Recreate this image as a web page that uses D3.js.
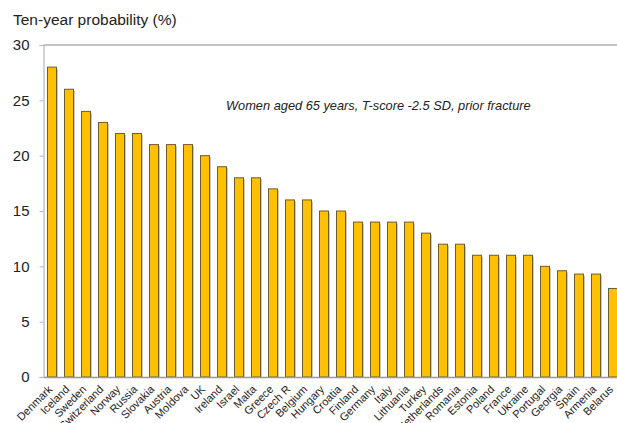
<!DOCTYPE html>
<html><head><meta charset="utf-8">
<script src="https://cdn.jsdelivr.net/npm/d3@7"></script>
<style>body{margin:0;background:#fff;overflow:hidden}svg{display:block;font-family:"Liberation Sans",Arial,sans-serif}</style>
</head><body><svg id="c" width="617" height="423"></svg>
<script>
const countries = ["Denmark","Iceland","Sweden","Switzerland","Norway","Russia","Slovakia","Austria","Moldova","UK","Ireland","Israel","Malta","Greece","Czech R","Belgium","Hungary","Croatia","Finland","Germany","Italy","Lithuania","Turkey","Netherlands","Romania","Estonia","Poland","France","Ukraine","Portugal","Georgia","Spain","Armenia","Belarus"];
const probability = [28,26,24,23,22,22,21,21,21,20,19,18,18,17,16,16,15,15,14,14,14,14,13,12,12,11,11,11,11,10,9.6,9.3,9.3,8];
const yTicks = [0,5,10,15,20,25,30];
const titleText = "Ten-year probability (%)";
const noteText = "Women aged 65 years, T-score -2.5 SD, prior fracture";

(function(){
const svg = d3.select("#c");
const mLeft = 43.5, mTop = 45, mBottom = 377;
const x = d3.scaleBand().domain(countries).range([mLeft, mLeft + 34*17]).paddingInner(0.47).paddingOuter(0.235);
const y = d3.scaleLinear().domain([0,30]).range([mBottom, mTop]);

svg.append("line").attr("x1", mLeft).attr("x2", 617).attr("y1", mTop).attr("y2", mTop)
  .attr("stroke", "#888").attr("stroke-width", 1.2);

svg.append("g").selectAll("rect").data(probability).join("rect")
  .attr("x", (d,i) => x(countries[i]) + 1.5)
  .attr("y", d => y(d) + 1.5)
  .attr("width", x.bandwidth())
  .attr("height", d => mBottom - y(d) - 1.5)
  .attr("fill", "#c8c8c8");

svg.append("g").selectAll("rect").data(probability).join("rect")
  .attr("x", (d,i) => x(countries[i]))
  .attr("y", d => y(d))
  .attr("width", x.bandwidth())
  .attr("height", d => mBottom - y(d))
  .attr("fill", "#FFC000")
  .attr("stroke", "#6e5c2c").attr("stroke-width", 1);

const ya = svg.append("g").attr("transform", `translate(${mLeft},0)`)
  .call(d3.axisLeft(y).tickValues(yTicks).tickSize(4).tickPadding(10));
ya.select(".domain").attr("stroke", "#a9b6d6").attr("stroke-width", 1.2);
ya.selectAll(".tick line").attr("stroke", "#a9b6d6");
ya.selectAll(".tick text").attr("font-size", 15).attr("fill", "#222")
  .attr("font-family", "Liberation Sans, Arial, sans-serif");

const xa = svg.append("g").attr("transform", `translate(0,${mBottom})`)
  .call(d3.axisBottom(x).tickSize(0).tickPadding(0));
xa.select(".domain").attr("stroke", "#999").attr("stroke-width", 1.5);
xa.selectAll(".tick text")
  .attr("font-size", 11).attr("fill", "#222")
  .attr("font-family", "Liberation Sans, Arial, sans-serif")
  .attr("text-anchor", "end")
  .attr("dy", 0)
  .attr("transform", "translate(1,13) rotate(-45)");

svg.append("text").attr("x", 13).attr("y", 25).attr("font-size", 15.5).attr("fill", "#222").text(titleText);

svg.append("text").attr("x", 226).attr("y", 110).attr("font-size", 12.8).attr("font-style", "italic")
  .attr("fill", "#222").text(noteText);
})();
</script></body></html>
